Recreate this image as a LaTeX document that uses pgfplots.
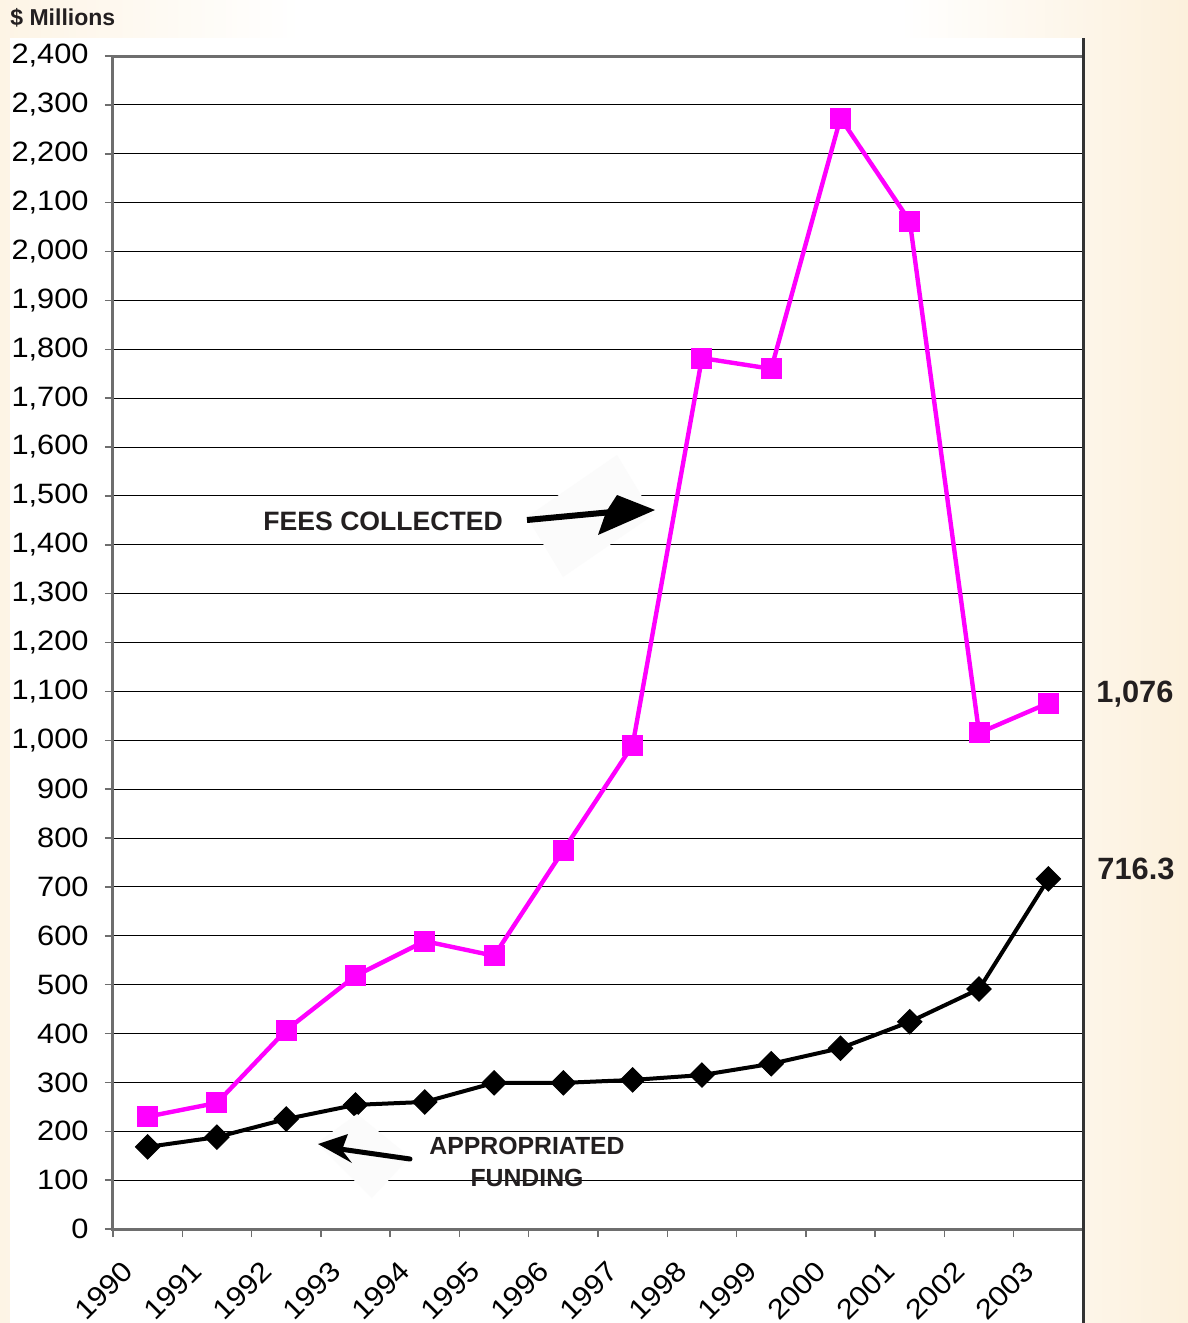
\documentclass[border=0pt]{standalone}
\usepackage{pgfplots}
\pgfplotsset{compat=1.18}
\usepackage{fontspec}
\setmainfont{Liberation Sans}
\newfontfamily\tickfont[FakeStretch=1.1]{Liberation Sans}
\definecolor{cream}{RGB}{252,240,220}
\definecolor{creamL}{RGB}{253,244,229}
\definecolor{mag}{RGB}{255,0,255}
\definecolor{txt}{RGB}{35,31,32}
\definecolor{spine}{RGB}{110,110,110}
\definecolor{pale}{RGB}{251,251,251}

\begin{document}
\begin{tikzpicture}
\begin{scope}[x=0.5pt,y=-0.5pt]
 \shade[left color=creamL,right color=white] (0,0) rectangle (300,1323);
 \fill[white] (299,0) rectangle (901,1323);
 \shade[left color=white,right color=cream] (900,0) rectangle (1188,1323);
 \fill[white] (10,38) rectangle (1083,1323);
 \node[anchor=west,font=\bfseries\fontsize{11.5}{13}\selectfont,text=txt,inner sep=0pt] at (10,18) {\$ Millions};
\end{scope}

\begin{axis}[
 at={(56.5pt,-614.5pt)}, anchor=south west,
 scale only axis, width=485pt, height=586.5pt,
 xmin=0, xmax=14, ymin=0, ymax=2400,
 xtick={0,1,2,3,4,5,6,7,8,9,10,11,12,13,14},
 xticklabels={1990,1991,1992,1993,1994,1995,1996,1997,1998,1999,2000,2001,2002,2003,{}},
 ytick={0,100,...,2400},
 ymajorgrids, major grid style={black,line width=0.5pt},
 axis line style={spine,line width=1.5pt},
 tick align=outside, major tick length=4pt, tick style={spine, line width=0.75pt},
 xtick pos=bottom, ytick pos=left,
 yticklabel style={font=\tickfont\fontsize{14}{16}\selectfont, inner sep=0pt, xshift=-8pt},
 xticklabel style={font=\tickfont\fontsize{14}{16}\selectfont, inner sep=0pt, anchor=north east, xshift=4pt, yshift=-11pt, rotate=45},
 /pgf/number format/.cd, 1000 sep={,}, assume math mode=true,
 /pgfplots/.cd, clip=false,
]
\addplot[mag, line width=2.2pt, mark=square*, mark size=5pt, mark options={solid,line width=0.5pt}] coordinates {
(0.5,230) (1.5,258) (2.5,407) (3.5,518) (4.5,589) (5.5,559) (6.5,775) (7.5,990)
(8.5,1782) (9.5,1760) (10.5,2273) (11.5,2062) (12.5,1015) (13.5,1076)};
\addplot[black, line width=2pt, mark=square*, mark size=4.3pt, mark options={solid,rotate=45,line width=0.5pt}] coordinates {
(0.5,168) (1.5,188) (2.5,225) (3.5,254) (4.5,260) (5.5,299) (6.5,299) (7.5,305)
(8.5,315) (9.5,338) (10.5,370) (11.5,424) (12.5,491) (13.5,716.3)};
\end{axis}

\begin{scope}[x=0.5pt,y=-0.5pt]
 % pale backdrops of the arrows
 \fill[pale] (527,517) -- (617,455) -- (653,515) -- (563,577) -- cycle;
 \fill[pale] (317,1143) -- (357,1114) -- (410,1157) -- (372,1198) -- cycle;
 % fees arrow
 \draw[black,line width=3pt] (527,520) -- (612,512);
 \fill[black] (655,510) -- (617,495) -- (606,512) -- (598,535) -- cycle;
 % appropriated arrow
 \draw[black,line width=2.5pt,line cap=round] (410,1159) -- (340,1149);
 \fill[black] (318,1144) -- (348,1134) -- (342,1150) -- (352,1163) -- cycle;
 % labels
 \node[anchor=west,font=\bfseries\fontsize{13.3}{15}\selectfont,text=txt,inner sep=0pt] at (263,521) {FEES COLLECTED};
 \node[font=\bfseries\fontsize{12.4}{14}\selectfont,text=txt,inner sep=0pt] at (527,1146) {APPROPRIATED};
 \node[font=\bfseries\fontsize{12.4}{14}\selectfont,text=txt,inner sep=0pt] at (527,1178) {FUNDING};
 \node[anchor=west,font=\bfseries\fontsize{15.4}{17}\selectfont,text=txt,inner sep=0pt] at (1096,694) {1,076};
 \node[anchor=west,font=\bfseries\fontsize{15.4}{17}\selectfont,text=txt,inner sep=0pt] at (1097,869) {716.3};
 % right spine
 \draw[black!80,line width=1.5pt] (1083,38) -- (1083,1323);
\end{scope}
\pgfresetboundingbox
\path (0,0) rectangle (594pt,-661.5pt);
\end{tikzpicture}
\end{document}
